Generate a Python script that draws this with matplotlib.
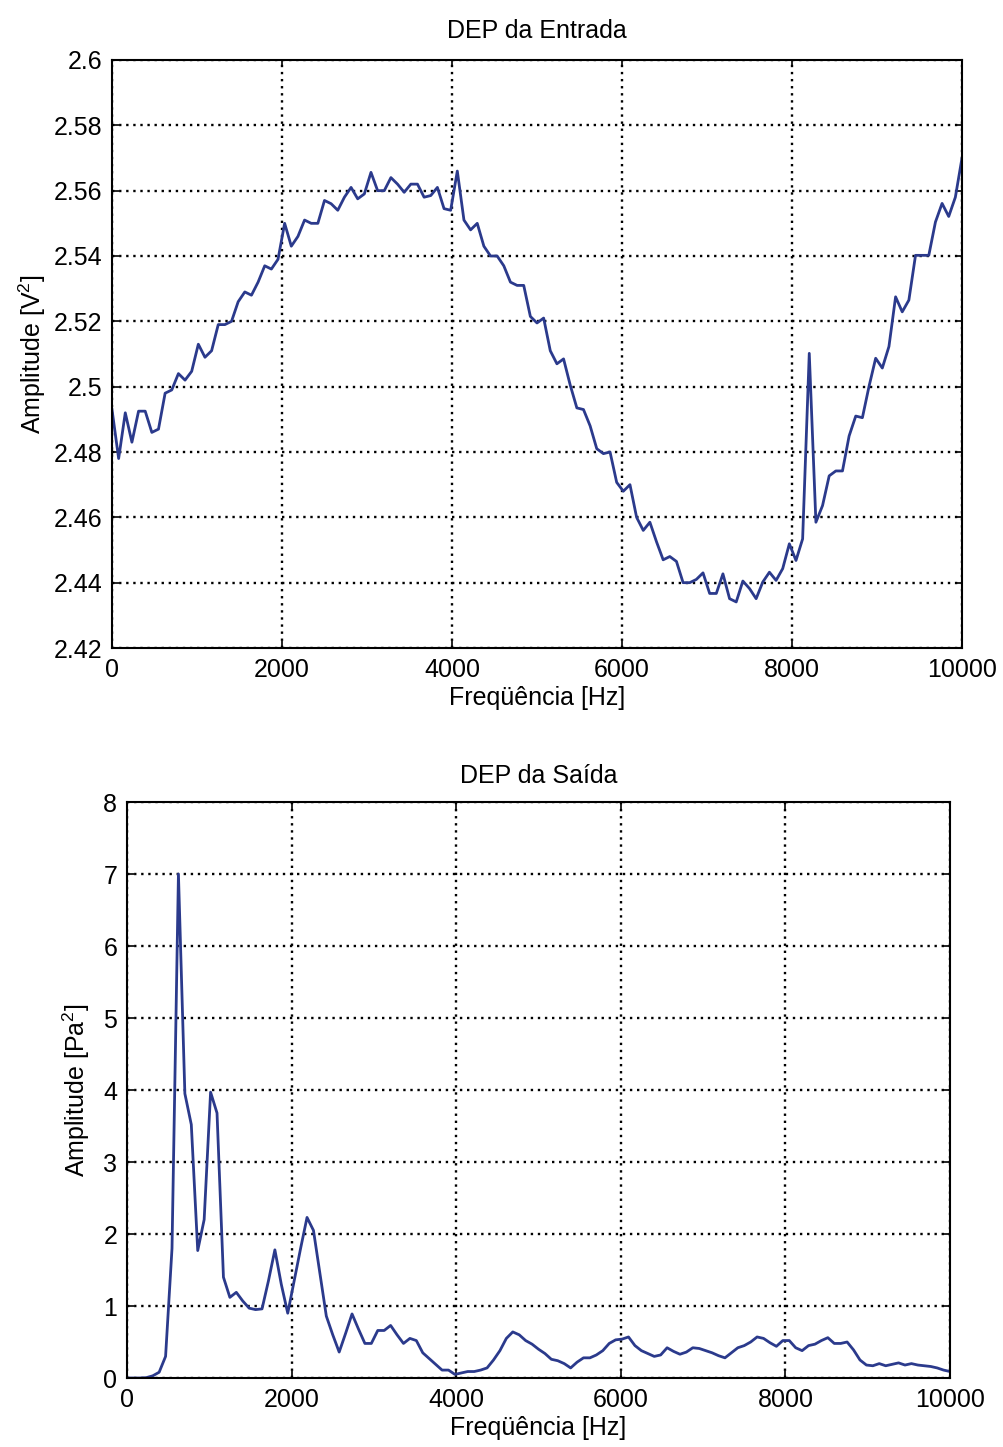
import matplotlib
matplotlib.use('Agg')
import matplotlib.pyplot as plt
import numpy as np
from matplotlib.ticker import FixedLocator, FixedFormatter

plt.rcParams['font.family'] = ['Liberation Sans', 'DejaVu Sans']
plt.rcParams['mathtext.default'] = 'regular'

# frequency grid: 129 bins, 0 .. 10000 Hz
freq = np.linspace(0, 10000, 129)

# DEP da Entrada [V^2]
dep_entrada = [
    2.493, 2.478, 2.492, 2.483, 2.4925, 2.4925, 2.486, 2.487, 2.498, 2.499,
    2.504, 2.502, 2.5047, 2.513, 2.509, 2.511, 2.519, 2.519, 2.520, 2.526,
    2.529, 2.528, 2.532, 2.537, 2.536, 2.539, 2.550, 2.543, 2.546, 2.551,
    2.550, 2.550, 2.557, 2.556, 2.554, 2.558, 2.561, 2.5575, 2.559, 2.5656,
    2.560, 2.560, 2.564, 2.562, 2.5595, 2.562, 2.562, 2.558, 2.5585, 2.561,
    2.5545, 2.554, 2.566, 2.551, 2.548, 2.550, 2.543, 2.540, 2.540, 2.537,
    2.532, 2.531, 2.531, 2.5215, 2.5195, 2.521, 2.511, 2.507, 2.5085, 2.5005,
    2.4935, 2.493, 2.488, 2.481, 2.4795, 2.480, 2.4707, 2.468, 2.470, 2.460,
    2.456, 2.4585, 2.4525, 2.447, 2.448, 2.4465, 2.440, 2.440, 2.441, 2.443,
    2.4367, 2.4367, 2.4427, 2.4351, 2.4341, 2.4405, 2.4382, 2.4351, 2.4402, 2.4432,
    2.4407, 2.4443, 2.4519, 2.4468, 2.4534, 2.5102, 2.4585, 2.4636, 2.4727, 2.4742,
    2.4742, 2.4849, 2.491, 2.4905, 2.5001, 2.5087, 2.5057, 2.5123, 2.5275, 2.5229,
    2.5265, 2.5402, 2.5402, 2.5402, 2.5504, 2.5561, 2.5521, 2.558, 2.570,
]

# DEP da Saida [Pa^2]
dep_saida = [
    0.0, 0.0, 0.0, 0.005, 0.03, 0.08, 0.3, 1.8, 7.0, 3.95,
    3.52, 1.77, 2.2, 3.97, 3.68, 1.40, 1.12, 1.19, 1.07, 0.97,
    0.95, 0.96, 1.35, 1.78, 1.3, 0.9, 1.35, 1.8, 2.23, 2.05,
    1.45, 0.86, 0.6, 0.36, 0.62, 0.89, 0.68, 0.48, 0.48, 0.66,
    0.66, 0.73, 0.6, 0.48, 0.55, 0.52, 0.35, 0.27, 0.19, 0.11,
    0.11, 0.05, 0.07, 0.09, 0.09, 0.11, 0.14, 0.25, 0.38, 0.55,
    0.64, 0.6, 0.52, 0.47, 0.4, 0.34, 0.26, 0.24, 0.2, 0.14,
    0.22, 0.28, 0.28, 0.32, 0.38, 0.48, 0.53, 0.54, 0.57, 0.45,
    0.38, 0.34, 0.3, 0.32, 0.42, 0.37, 0.33, 0.36, 0.42, 0.41,
    0.38, 0.35, 0.31, 0.28, 0.35, 0.42, 0.45, 0.5, 0.57, 0.55,
    0.49, 0.44, 0.52, 0.52, 0.42, 0.38, 0.45, 0.47, 0.52, 0.56,
    0.48, 0.48, 0.50, 0.39, 0.25, 0.18, 0.17, 0.20, 0.17, 0.19,
    0.21, 0.18, 0.20, 0.18, 0.17, 0.16, 0.14, 0.11, 0.09,
]

x_ticks = [0, 2000, 4000, 6000, 8000, 10000]
y1_ticks = [2.42, 2.44, 2.46, 2.48, 2.5, 2.52, 2.54, 2.56, 2.58, 2.6]
y1_labels = ['2.42', '2.44', '2.46', '2.48', '2.5', '2.52', '2.54', '2.56', '2.58', '2.6']
y2_ticks = [0, 1, 2, 3, 4, 5, 6, 7, 8]

line_color = '#2b3a8c'
fs = 18

W, H = 1004, 1447
fig = plt.figure(figsize=(W / 100, H / 100), dpi=100)


def rect(l, t, r, b):
    return [l / W, 1 - b / H, (r - l) / W, (b - t) / H]


def style(ax):
    ax.grid(True, color='black', linestyle=(0, (1, 2)), linewidth=1.7)
    ax.tick_params(direction='in', length=5, width=1.2, top=True, right=True,
                   labelsize=fs, pad=7)
    for s in ax.spines.values():
        s.set_linewidth(1.5)
    ax.set_xlim(0, 10000)
    ax.xaxis.set_major_locator(FixedLocator(x_ticks))
    ax.set_xlabel('Freqüência [Hz]', fontsize=fs, labelpad=3)


ax1 = fig.add_axes(rect(112, 60, 962, 648))
ax1.plot(freq, dep_entrada, color=line_color, linewidth=2.0)
style(ax1)
ax1.set_ylim(2.42, 2.6)
ax1.yaxis.set_major_locator(FixedLocator(y1_ticks))
ax1.yaxis.set_major_formatter(FixedFormatter(y1_labels))
ax1.set_ylabel('Amplitude [V$^2$]', fontsize=fs, labelpad=4)
ax1.set_title('DEP da Entrada', fontsize=fs, pad=16)

ax2 = fig.add_axes(rect(127, 802, 950, 1378))
ax2.plot(freq, dep_saida, color=line_color, linewidth=2.0)
style(ax2)
ax2.set_ylim(0, 8)
ax2.yaxis.set_major_locator(FixedLocator(y2_ticks))
ax2.set_ylabel('Amplitude [Pa$^2$]', fontsize=fs, labelpad=8)
ax2.set_title('DEP da Saída', fontsize=fs, pad=14)

fig.savefig('out.png', dpi=100)
